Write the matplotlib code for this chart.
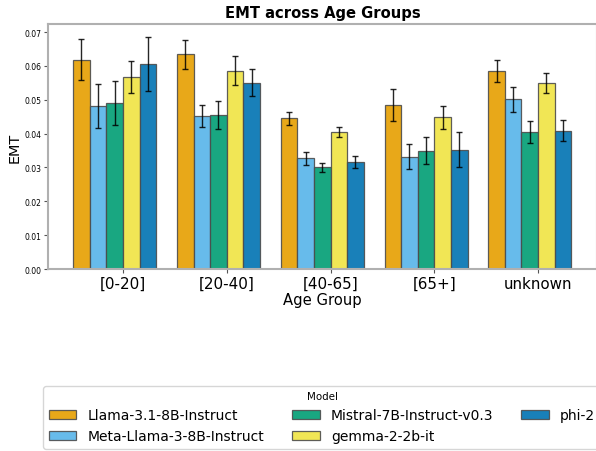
import numpy as np
import matplotlib
matplotlib.use("Agg")
import matplotlib.pyplot as plt

# ---- data ----
age_groups = ["[0-20]", "[20-40]", "[40-65]", "[65+]", "unknown"]
models = ["Llama-3.1-8B-Instruct", "Meta-Llama-3-8B-Instruct",
          "Mistral-7B-Instruct-v0.3", "gemma-2-2b-it", "phi-2"]

llama31 = [0.0619, 0.0634, 0.0445, 0.0484, 0.0585]
llama3 = [0.0482, 0.0452, 0.0327, 0.0332, 0.0501]
mistral = [0.0491, 0.0456, 0.0300, 0.0350, 0.0405]
gemma = [0.0568, 0.0586, 0.0405, 0.0448, 0.0549]
phi2 = [0.0607, 0.0551, 0.0316, 0.0353, 0.0409]

llama31_err = [0.0061, 0.0044, 0.0020, 0.0048, 0.0032]
llama3_err = [0.0066, 0.0033, 0.0019, 0.0036, 0.0036]
mistral_err = [0.0065, 0.0041, 0.0014, 0.0040, 0.0032]
gemma_err = [0.0048, 0.0043, 0.0014, 0.0033, 0.0030]
phi2_err = [0.0080, 0.0041, 0.0018, 0.0051, 0.0032]

colors = ["#E69F00", "#56B4E9", "#009E73", "#F0E442", "#0072B2"]

values = [llama31, llama3, mistral, gemma, phi2]
errors = [llama31_err, llama3_err, mistral_err, gemma_err, phi2_err]

fig = plt.figure(figsize=(5.96, 4.52), dpi=100)
ax = fig.add_axes([48 / 596, 1 - 270 / 452, 549 / 596, 245 / 452])

x = np.arange(len(age_groups))
w = 0.16
for k, (vals, errs) in enumerate(zip(values, errors)):
    pos = x - 0.4 + k * w
    ax.bar(pos, vals, width=w, color=colors[k], alpha=0.9,
           edgecolor=(0.3, 0.3, 0.3, 0.6), linewidth=0.9, label=models[k])
    ax.errorbar(pos, vals, yerr=errs, fmt="none", ecolor="black",
                elinewidth=1.0, capsize=2.5, capthick=1.0, alpha=0.85)

ax.set_xlim(-0.7225, 4.5675)
ax.set_ylim(0, 0.0724)
ax.set_yticks(np.arange(0, 0.071, 0.01))
ax.set_yticklabels([f"{v:.2f}" for v in np.arange(0, 0.071, 0.01)], fontsize=5.5)
ax.set_xticks(x)
ax.set_xticklabels(age_groups, fontsize=10.9)
ax.tick_params(axis="y", length=3, color="#555555", pad=2)
ax.tick_params(axis="x", length=3, color="#555555", pad=2)

for s in ax.spines.values():
    s.set_color("#b0b0b0")
    s.set_linewidth(1.5)

ax.set_xlabel("Age Group", fontsize=10.6, labelpad=1)
ax.set_ylabel("EMT", fontsize=10.4, labelpad=2)
ax.set_title("EMT across Age Groups", fontsize=10.6, fontweight="bold", pad=5)

leg = fig.legend(loc="upper center", bbox_to_anchor=(322 / 596, 1 - 380 / 452),
                 ncol=3, title="Model", fontsize=10, title_fontsize=7.4,
                 frameon=True)

fig.savefig("out.png", dpi=100)
